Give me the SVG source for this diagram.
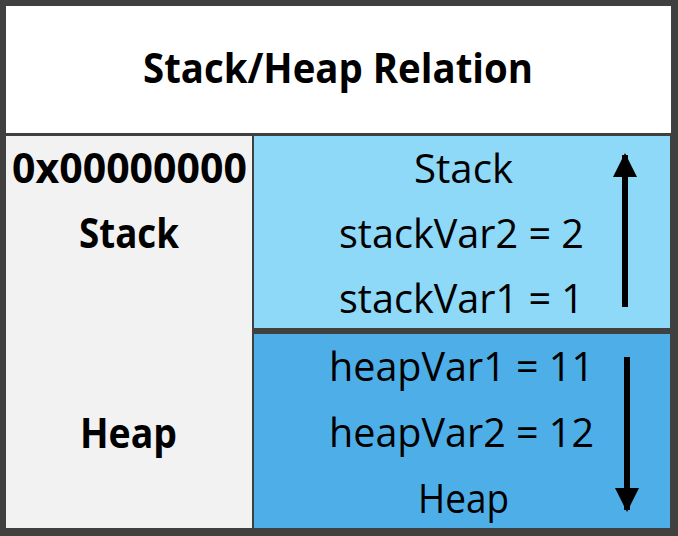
<svg xmlns="http://www.w3.org/2000/svg" width="678" height="536" viewBox="0 0 678 536">
<style>
.t{font-family:"Open Sans","Liberation Sans",sans-serif;fill:#000;text-anchor:middle}
.b{font-weight:bold;font-size:41px}
.n{font-weight:normal;font-size:40px}
.arrow{stroke:#000;stroke-width:6;fill:none}
</style>
<defs>
<marker id="ah" viewBox="0 0 24 26" refX="22" refY="12" markerWidth="24" markerHeight="26" markerUnits="userSpaceOnUse" orient="auto">
<path d="M0,0 L24,12 L0,24 Z" fill="#000"/>
</marker>
</defs>
<rect x="0" y="0" width="678" height="536" fill="#404040"/>
<g id="title">
<rect x="6" y="6" width="665" height="127" fill="#ffffff"/>
<text class="t b" x="338" y="83" textLength="390" lengthAdjust="spacingAndGlyphs">Stack/Heap Relation</text>
</g>
<g id="left-column">
<rect x="6" y="136" width="246" height="392" fill="#f2f2f2"/>
<text class="t b" x="129.5" y="183" textLength="235" lengthAdjust="spacingAndGlyphs">0x00000000</text>
<text class="t b" x="129" y="248" textLength="100" lengthAdjust="spacingAndGlyphs">Stack</text>
<text class="t b" x="128.5" y="448" textLength="97" lengthAdjust="spacingAndGlyphs">Heap</text>
</g>
<g id="stack">
<rect x="254" y="136" width="416" height="192" fill="#8ed8f8"/>
<text class="t n" x="463.5" y="183" textLength="99" lengthAdjust="spacingAndGlyphs">Stack</text>
<text class="t n" x="461.5" y="248" textLength="245" lengthAdjust="spacingAndGlyphs">stackVar2 = 2</text>
<text class="t n" x="461.5" y="313" textLength="245" lengthAdjust="spacingAndGlyphs">stackVar1 = 1</text>
</g>
<g id="heap">
<rect x="254" y="334" width="416" height="194" fill="#4daee8"/>
<text class="t n" x="461.5" y="381" textLength="265" lengthAdjust="spacingAndGlyphs">heapVar1 = 11</text>
<text class="t n" x="461.5" y="447" textLength="265" lengthAdjust="spacingAndGlyphs">heapVar2 = 12</text>
<text class="t n" x="463.5" y="513" textLength="91" lengthAdjust="spacingAndGlyphs">Heap</text>
</g>
<g id="connectors">
<line class="arrow" x1="625" y1="307" x2="625" y2="155" marker-end="url(#ah)"/>
<line class="arrow" x1="627" y1="357" x2="627" y2="510" marker-end="url(#ah)"/>
</g>
</svg>
